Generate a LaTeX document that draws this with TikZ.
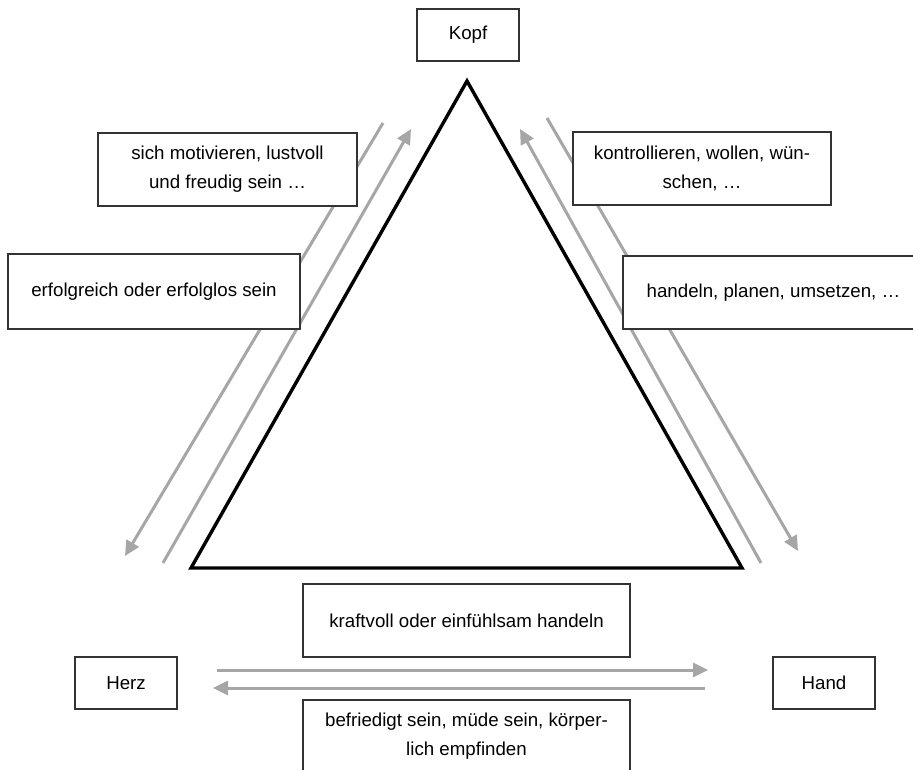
\documentclass[tikz,border=0pt]{standalone}
\usepackage{fontspec}
\setmainfont{Liberation Sans}
\usepackage{tikz}
\usetikzlibrary{
  arrows.meta,
  positioning
}
\definecolor{kzGray}{HTML}{A6A6A6}
\definecolor{kzEdge}{HTML}{333333}
\tikzset{
  kzbox/.style={
    draw=kzEdge, fill=white, line width=0.6pt, anchor=north west, inner sep=0pt, outer sep=0pt,
    align=center, font=\fontsize{9.35}{14.5}\selectfont
  },
  cornerbox/.style={kzbox, minimum width=51pt, minimum height=26pt},
  notebox/.style={kzbox, minimum height=36.5pt},
  kzflow/.style={-{Triangle[length=7.5pt, width=7pt]}, line width=1.5pt, kzGray},
  kzedge/.style={line width=1.7pt, line join=miter}
}

\begin{document}
\begin{tikzpicture}[x=0.5pt, y=-0.5pt]
  \useasboundingbox (0,0) rectangle (913,769);
  \clip (0,0) rectangle (913,769);
  % triangle
  \coordinate (apex) at (467,81);
  \coordinate (baseL) at (191,568);
  \coordinate (baseR) at (742,568);
  \draw[kzedge] (apex) -- (baseR) -- (baseL) -- cycle;
  % arrows
  \coordinate (lo1) at (383,123);
  \coordinate (lo2) at (125,556);
  \coordinate (li1) at (163,563);
  \coordinate (li2) at (411,129);
  \coordinate (ro1) at (547,118);
  \coordinate (ro2) at (798,551);
  \coordinate (ri1) at (761,563);
  \coordinate (ri2) at (520,129);
  \coordinate (ht1) at (217,670);
  \coordinate (ht2) at (708,670);
  \coordinate (hb1) at (705,688);
  \coordinate (hb2) at (213,688);
  \draw[kzflow] (lo1) -- (lo2);
  \draw[kzflow] (li1) -- (li2);
  \draw[kzflow] (ro1) -- (ro2);
  \draw[kzflow] (ri1) -- (ri2);
  \draw[kzflow] (ht1) -- (ht2);
  \draw[kzflow] (hb1) -- (hb2);
  % corners
  \node[cornerbox] (kopf) at (417,9) {Kopf};
  \node[cornerbox] (herz) at (75,657) {Herz};
  \node[cornerbox] (hand) at (773,657) {Hand};
  % notes
  \node[notebox, minimum width=129.5pt] (motiv) at (98,133) {sich motivieren, lustvoll\\und freudig sein \dots};
  \node[notebox, minimum width=146pt, minimum height=37.5pt] (erfolg) at (8,254) {erfolgreich oder erfolglos sein};
  \node[notebox, minimum width=129pt] (kontroll) at (573,132) {kontrollieren, wollen, wün-\\schen, \dots};
  \node[notebox, minimum width=150.5pt] (handeln) at (623,256) {handeln, planen, umsetzen, \dots};
  \node[notebox, minimum width=163.5pt] (kraft) at (303,584) {kraftvoll oder einfühlsam handeln};
  \node[notebox, minimum width=163.5pt] (befried) at (303,700) {befriedigt sein, müde sein, körper-\\lich empfinden};
\end{tikzpicture}
\end{document}
